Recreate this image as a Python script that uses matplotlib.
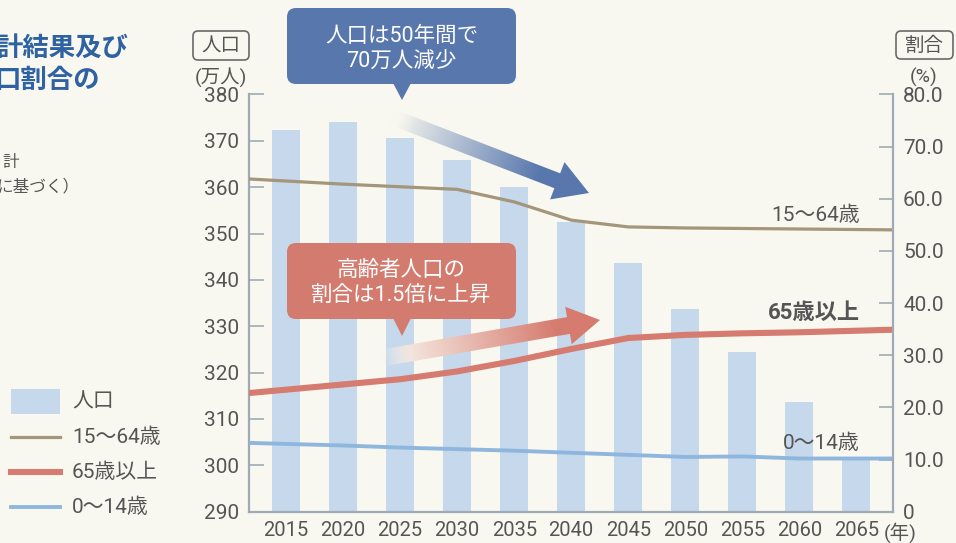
import numpy as np
import matplotlib
matplotlib.use("Agg")
import matplotlib.pyplot as plt
from matplotlib.patches import FancyBboxPatch, Polygon, Rectangle
from matplotlib.lines import Line2D
from matplotlib.colors import to_rgb

plt.rcParams['font.family'] = ['Roboto', 'Noto Sans CJK JP', 'DejaVu Sans']

# データ（万人 / %）
years = ['2015', '2020', '2025', '2030', '2035', '2040',
         '2045', '2050', '2055', '2060', '2065']
population = [372.4, 374.1, 370.6, 365.9, 360.1, 352.4,
              343.7, 333.8, 324.4, 313.6, 301.7]
age_15_64 = [63.4, 62.8, 62.3, 61.8, 59.4, 55.9, 54.6, 54.4, 54.3, 54.2, 54.1]
age_65_over = [23.4, 24.4, 25.4, 26.9, 28.9, 31.2, 33.3, 33.9, 34.2, 34.4, 34.7]
age_0_14 = [13.0, 12.7, 12.3, 12.0, 11.7, 11.3, 10.9, 10.5, 10.6, 10.2, 10.2]

BG = '#f9f8f0'
BAR = '#c6d8eb'
C_1564 = '#a3967a'
C_65 = '#d67b6f'
C_014 = '#8fb7de'
AXC = '#9eaab5'
TXT = '#555555'
BLUE_BOX = '#5877ad'
RED_BOX = '#d47b6f'

fig = plt.figure(figsize=(9.56, 5.43), dpi=100, facecolor=BG)
ax = fig.add_axes([0.2605, 0.0576, 0.674, 0.7685])
ax.set_facecolor(BG)

x = np.arange(len(years))
XL = (-0.65, len(years) - 1 + 0.65)
ax.bar(x, population, width=0.49, color=BAR, zorder=1)
ax.set_xlim(*XL)
ax.set_ylim(290, 380)
ax.set_yticks(range(290, 381, 10))
ax.set_xticks(x, years)
ax.tick_params(axis='y', direction='in', length=11, width=1.2, color=AXC,
               pad=7, labelsize=15, labelcolor=TXT)
ax.tick_params(axis='x', length=0, pad=7, labelsize=14.5, labelcolor=TXT)
for s in ['top', 'right']:
    ax.spines[s].set_visible(False)
for s in ['left', 'bottom']:
    ax.spines[s].set_color(AXC)
    ax.spines[s].set_linewidth(1.6)

ax2 = ax.twinx()
ax2.set_ylim(0, 80)
ax2.set_yticks(range(0, 81, 10),
               ['0'] + [f'{v:.1f}' for v in range(10, 81, 10)])
ax2.tick_params(axis='y', direction='in', length=10, width=1.2, color=AXC,
                pad=7, labelsize=15, labelcolor=TXT)
for s in ['top', 'left', 'bottom']:
    ax2.spines[s].set_visible(False)
ax2.spines['right'].set_color(AXC)
ax2.spines['right'].set_linewidth(1.6)


def extend(vals):
    # 線を軸の端まで延ばす（両端は直線で外挿）
    v = np.asarray(vals, float)
    left = v[0] - (v[1] - v[0]) * (0 - XL[0])
    right = v[-1] + (v[-1] - v[-2]) * (XL[1] - x[-1])
    return np.concatenate([[XL[0]], x, [XL[1]]]), np.concatenate([[left], v, [right]])


for vals, col, lw in [(age_15_64, C_1564, 2.3), (age_0_14, C_014, 2.8),
                      (age_65_over, C_65, 4.4)]:
    xs, ys = extend(vals)
    ax2.plot(xs, ys, color=col, lw=lw, solid_joinstyle='round',
             solid_capstyle='butt')

# ---- overlay in pixel coords ----
ov = fig.add_axes([0, 0, 1, 1], zorder=5)
ov.set_xlim(0, 956)
ov.set_ylim(543, 0)
ov.axis('off')
ov.patch.set_alpha(0)

# series labels
ov.text(860, 215, '15〜64歳', ha='right', va='center', fontsize=15, color=TXT)
ov.text(860, 313, '65歳以上', ha='right', va='center', fontsize=16,
        color=TXT, fontweight='bold')
ov.text(860, 443, '0〜14歳', ha='right', va='center', fontsize=15, color=TXT)
ov.text(884, 533, '(年)', ha='left', va='center', fontsize=14, color=TXT)

# axis unit boxes
for (x0, y0, x1, y1, lab) in [(193, 31, 249, 60, '人口'), (896, 31, 953, 59, '割合')]:
    ov.add_patch(FancyBboxPatch((x0, y0), x1 - x0, y1 - y0,
                                boxstyle='round,pad=0,rounding_size=5',
                                fc='none', ec='#6a6a6a', lw=1.2))
    ov.text((x0 + x1) / 2, (y0 + y1) / 2 + 1, lab, ha='center', va='center',
            fontsize=14, color=TXT)
ov.text(221, 77, '(万人)', ha='center', va='center', fontsize=14, color=TXT)
ov.text(924, 77, '(%)', ha='center', va='center', fontsize=14, color=TXT)

# cut-off heading text on the left
ov.text(128, 48, '計結果及び', ha='right', va='center', fontsize=19,
        color='#2e62a3', fontweight='bold')
ov.text(100, 81, '口割合の', ha='right', va='center', fontsize=19,
        color='#2e62a3', fontweight='bold')
ov.text(19, 163, '計', ha='right', va='center', fontsize=12, color=TXT)
ov.text(80, 186, 'に基づく）', ha='right', va='center', fontsize=12, color=TXT)

# legend
ov.add_patch(Rectangle((11, 389), 49, 25, fc=BAR, ec='none'))
ov.add_line(Line2D([11, 60], [437, 437], color=C_1564, lw=2.3))
ov.add_line(Line2D([11, 60], [472, 472], color=C_65, lw=4.4))
ov.add_line(Line2D([11, 60], [507, 507], color=C_014, lw=2.8))
for yy, lab in [(402, '人口'), (437, '15〜64歳'), (472, '65歳以上'), (507, '0〜14歳')]:
    ov.text(72, yy, lab, ha='left', va='center', fontsize=15, color=TXT)


def grad_arrow(tail, tip, shaft_w, head_w, head_l, color, ramp):
    tail = np.array(tail, float)
    tip = np.array(tip, float)
    d = tip - tail
    L = np.hypot(*d)
    u = d / L
    n = np.array([-u[1], u[0]])
    base = tip - u * head_l
    pts = [tail + n * shaft_w / 2, base + n * shaft_w / 2, base + n * head_w / 2,
           tip, base - n * head_w / 2, base - n * shaft_w / 2, tail - n * shaft_w / 2]
    poly = Polygon(pts, closed=True, fc='none', ec='none')
    ov.add_patch(poly)
    px = [p[0] for p in pts]
    py = [p[1] for p in pts]
    x0, x1, y0, y1 = min(px) - 2, max(px) + 2, min(py) - 2, max(py) + 2
    GX, GY = np.meshgrid(np.linspace(x0, x1, 300), np.linspace(y0, y1, 300))
    t = ((GX - tail[0]) * u[0] + (GY - tail[1]) * u[1]) / L
    s = np.clip(t / ramp, 0, 1)[..., None]
    rgb = np.array(to_rgb(BG)) * (1 - s) + np.array(to_rgb(color)) * s
    alpha = np.clip(t / 0.12, 0, 1)
    im = ov.imshow(np.dstack([rgb, alpha]), extent=(x0, x1, y1, y0),
                   origin='upper', aspect='auto', interpolation='bilinear', zorder=3)
    im.set_clip_path(poly)


def callout(x0, y0, x1, y1, tipx, tipy, color, lines, ys):
    ov.add_patch(FancyBboxPatch((x0, y0), x1 - x0, y1 - y0,
                                boxstyle='round,pad=0,rounding_size=9',
                                fc=color, ec='none', zorder=4))
    ov.add_patch(Polygon([(tipx - 9, y1 - 1), (tipx + 9, y1 - 1), (tipx, tipy)],
                         closed=True, fc=color, ec='none', zorder=4))
    for txt, yy in zip(lines, ys):
        ov.text((x0 + x1) / 2, yy, txt, ha='center', va='center',
                fontsize=15.5, color='white', zorder=5)


grad_arrow((392, 117), (589, 193), 16, 40, 34, BLUE_BOX, 0.75)
grad_arrow((382, 358), (600, 320), 17, 38, 32, C_65, 0.8)
callout(287, 8, 516, 84, 402, 100, BLUE_BOX, ['人口は50年間で', '70万人減少'], [36, 62])
callout(287, 243, 516, 319, 402, 336, RED_BOX, ['高齢者人口の', '割合は1.5倍に上昇'], [270, 295])

ov.set_xlim(0, 956)
ov.set_ylim(543, 0)

fig.savefig('out.png', dpi=100, facecolor=BG)
